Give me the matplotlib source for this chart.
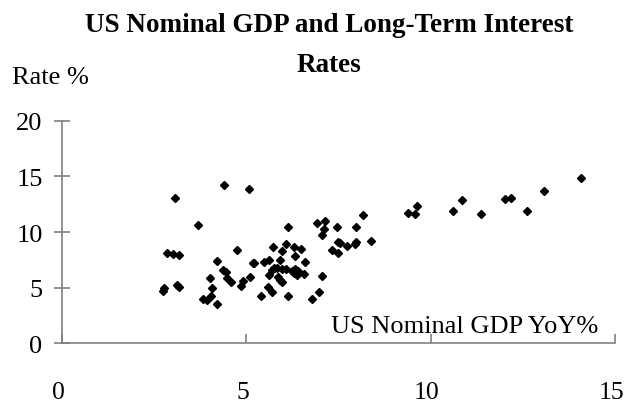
import matplotlib
matplotlib.use('Agg')
import matplotlib.pyplot as plt
import matplotlib.transforms as mtransforms

# US nominal GDP growth (YoY %) vs long-term interest rate (%)
gdp_yoy = [4.38, 5.08, 3.07, 3.69, 2.86, 3.00, 3.18, 4.75, 4.20, 5.20,
           5.19, 4.36, 4.45, 4.01, 4.47, 4.57, 4.90, 5.11, 4.86, 4.06,
           4.05, 3.82, 3.92, 4.20, 2.76, 2.73, 3.11, 3.16, 5.40, 9.64,
           9.38, 9.56, 8.15, 6.91, 7.14, 7.10, 7.06, 7.45, 7.98, 6.14,
           8.37, 7.96, 7.95, 7.72, 7.48, 7.53, 7.32, 7.49, 5.73, 6.08,
           6.29, 6.49, 5.96, 6.33, 6.60, 5.90, 5.47, 5.61, 5.74, 5.83,
           5.96, 6.08, 5.69, 6.23, 6.32, 6.41, 5.61, 6.37, 6.29, 6.55,
           5.86, 5.91, 5.97, 7.06, 5.59, 5.70, 6.14, 6.96, 6.78, 10.59,
           10.84, 11.36, 12.02, 12.18, 12.61, 13.07, 14.08]
rate = [14.27, 13.88, 13.04, 10.67, 8.12, 8.00, 7.91, 8.39, 7.37, 7.22,
        7.25, 6.62, 6.38, 5.84, 5.84, 5.54, 5.57, 5.93, 5.18, 5.00,
        4.25, 3.98, 3.87, 3.56, 4.97, 4.68, 5.24, 5.06, 4.24, 12.37,
        11.72, 11.60, 11.54, 10.79, 10.97, 10.28, 9.74, 10.49, 10.49, 10.46,
        9.17, 9.08, 8.93, 8.78, 9.08, 8.99, 8.39, 8.12, 8.69, 8.93,
        8.69, 8.45, 8.27, 7.82, 7.28, 7.52, 7.31, 7.46, 6.74, 6.74,
        6.71, 6.71, 6.56, 6.53, 6.68, 6.50, 6.14, 6.17, 6.29, 6.23,
        5.93, 5.69, 5.49, 6.08, 5.04, 4.58, 4.23, 4.61, 3.96, 11.90,
        12.86, 11.63, 12.95, 13.10, 11.90, 13.72, 14.84]

plt.rcParams['font.family'] = ['Liberation Serif', 'DejaVu Serif']

fig = plt.figure(figsize=(6.25, 4.06), dpi=100)
ax = fig.add_axes([0.0992, 0.152, 0.885, 0.548])

ax.plot(gdp_yoy, rate, linestyle='none', marker='D', markersize=4.5, color='black')

ax.set_xlim(0, 15)
ax.set_ylim(0, 20)
ax.set_xticks([0, 5, 10, 15])
ax.set_yticks([0, 5, 10, 15, 20])

for s in ['top', 'right']:
    ax.spines[s].set_visible(False)
for s in ['left', 'bottom']:
    ax.spines[s].set_color('#808080')
    ax.spines[s].set_linewidth(1.2)

ax.tick_params(axis='y', direction='inout', length=12, width=1.2, color='#808080',
               labelsize=19, pad=8)
ax.tick_params(axis='x', direction='in', length=6.5, width=1.2, color='#808080',
               labelsize=18.5, pad=27)

# x labels sit a few pixels left of their ticks, so "15" stays inside the figure
shift = mtransforms.ScaledTranslation(-0.04, 0, fig.dpi_scale_trans)
for lbl in ax.get_xticklabels():
    lbl.set_transform(lbl.get_transform() + shift)

ax.text(0.969, 0.051, 'US Nominal GDP YoY%', transform=ax.transAxes,
        ha='right', va='baseline', fontsize=19)
fig.text(0.019, 0.793, 'Rate %', ha='left', va='baseline', fontsize=19)
fig.text(0.527, 0.921, 'US Nominal GDP and Long-Term Interest',
         ha='center', va='baseline', fontsize=19.5, fontweight='bold')
fig.text(0.527, 0.8227, 'Rates',
         ha='center', va='baseline', fontsize=19.5, fontweight='bold')

fig.savefig('out.png', dpi=100)
